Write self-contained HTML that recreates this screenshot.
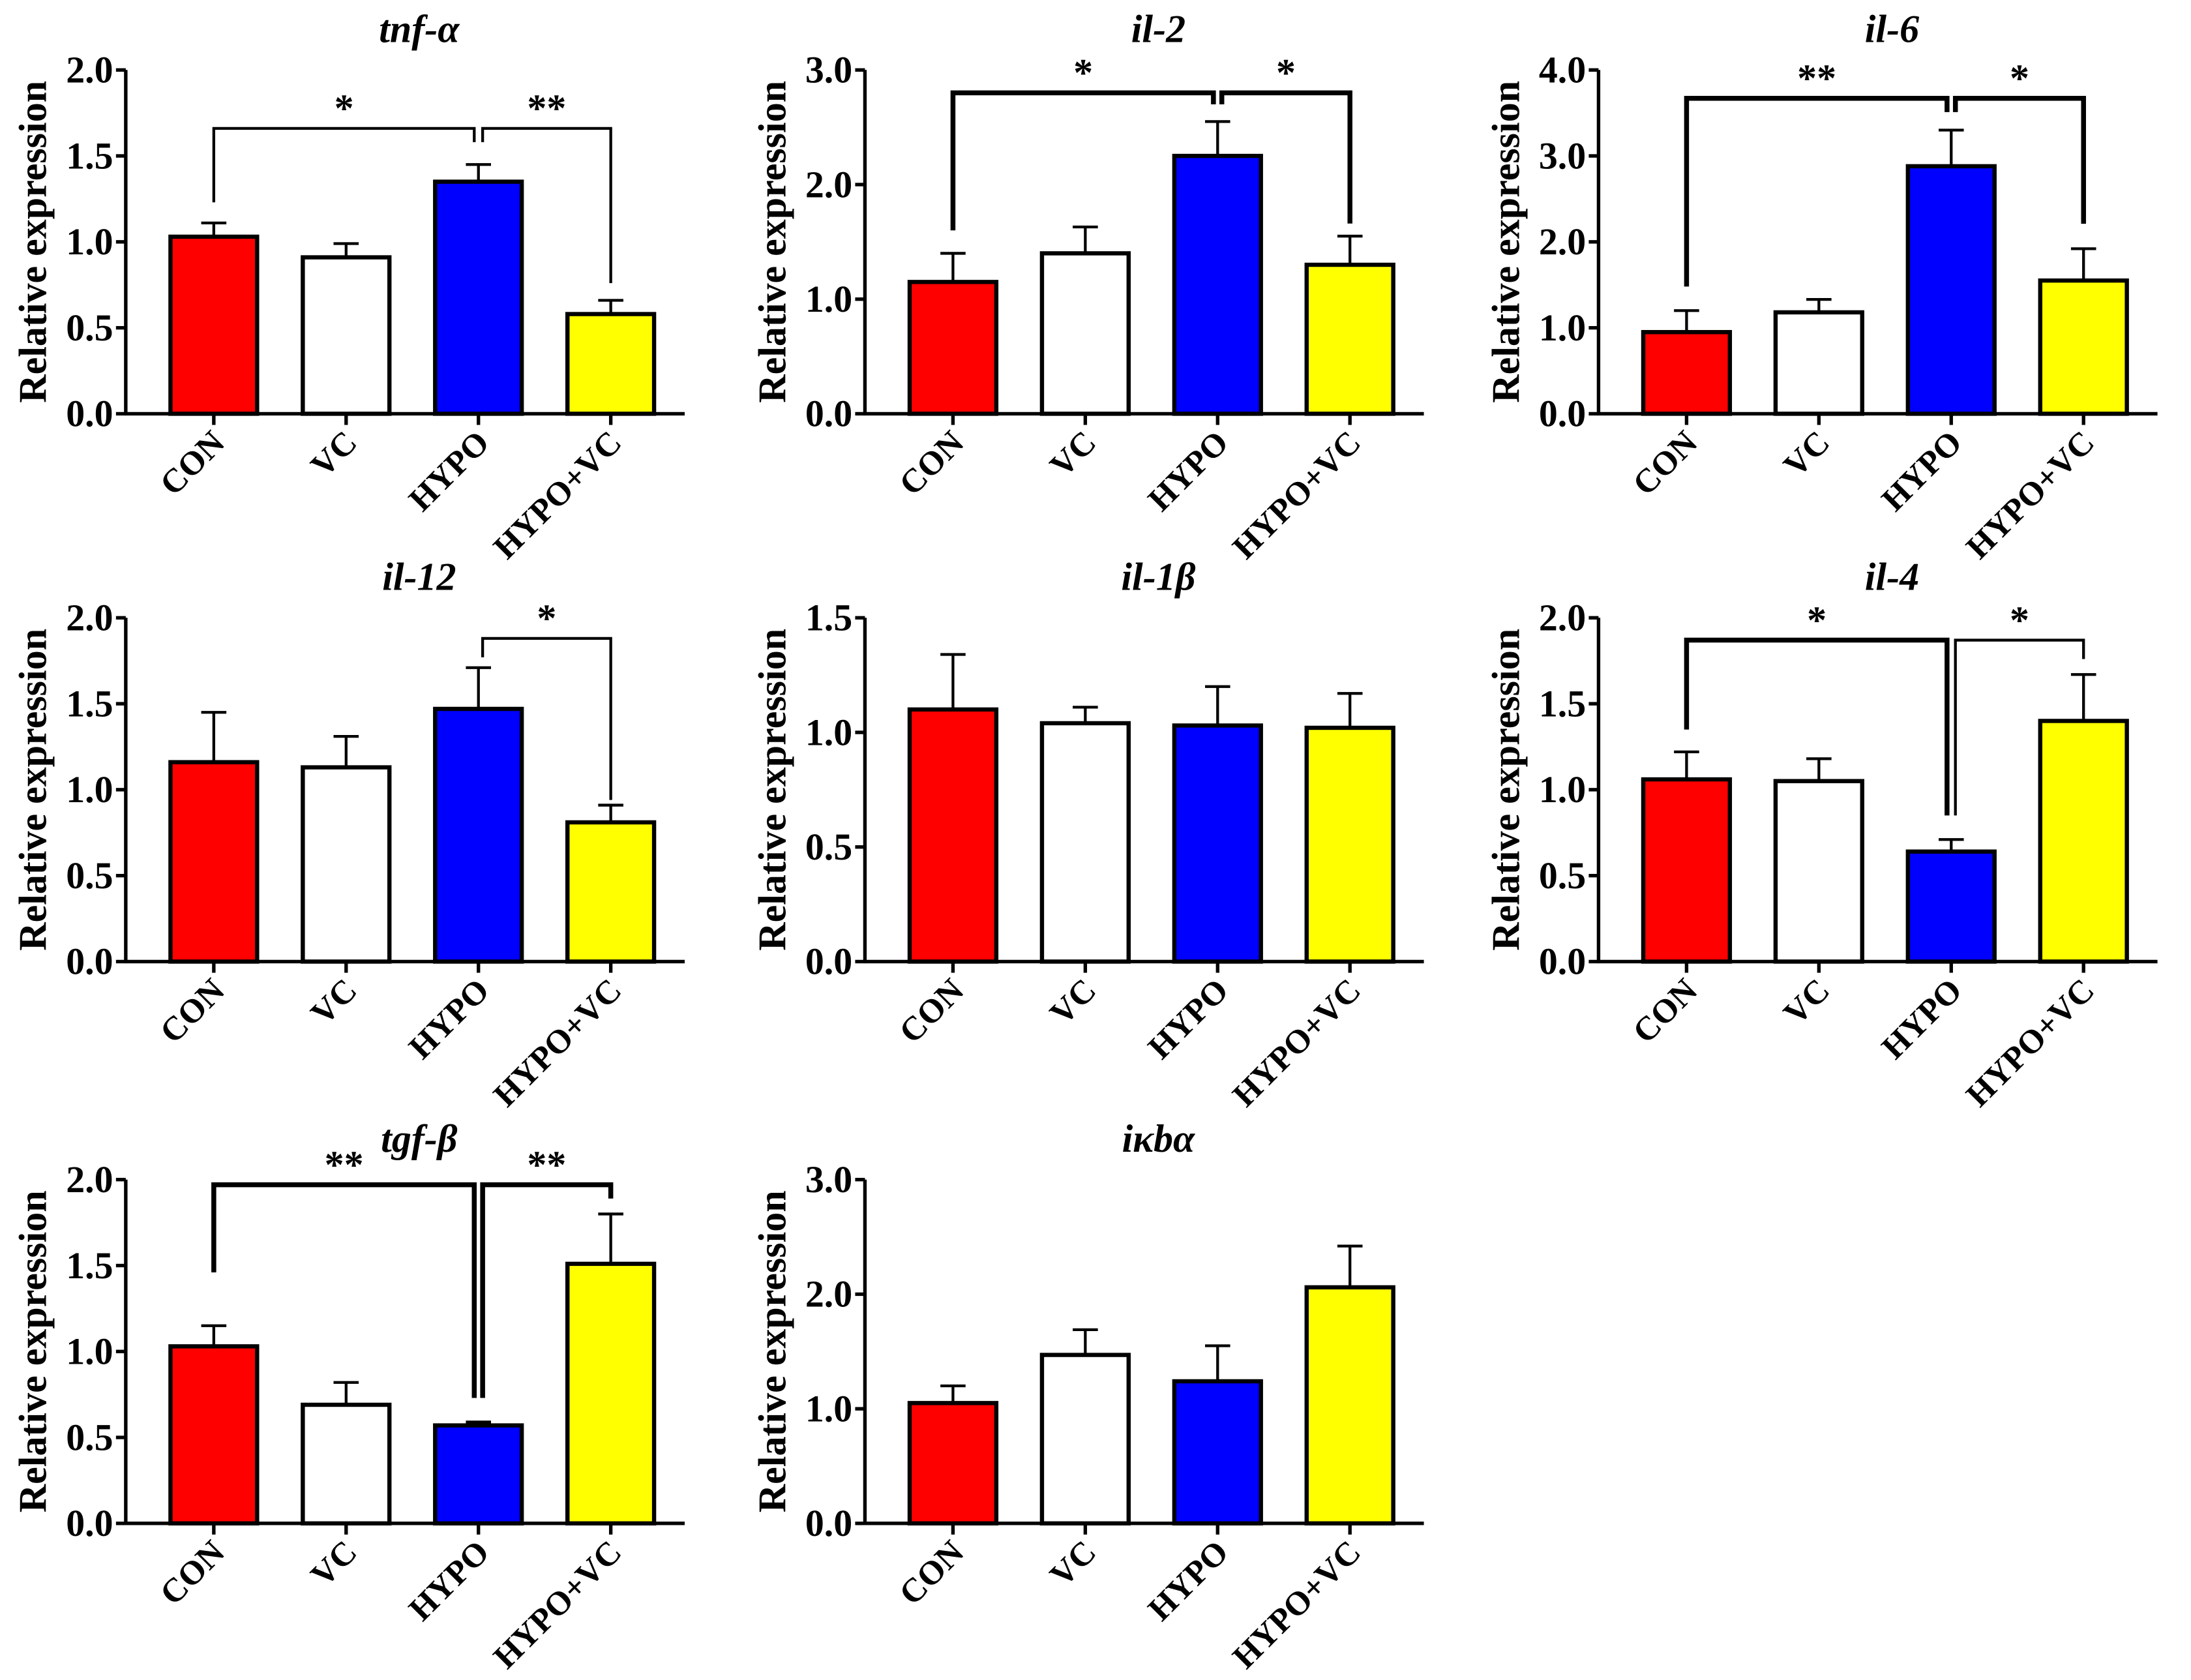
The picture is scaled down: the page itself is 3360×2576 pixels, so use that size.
<!DOCTYPE html>
<html><head><meta charset="utf-8"><style>
html,body{margin:0;padding:0;background:#fff;}
svg{display:block;}
text{font-family:"Liberation Serif",serif;font-weight:bold;fill:#000;}
</style></head><body>
<svg id="fig" width="3360" height="2576" viewBox="0 0 1568 1202" xmlns="http://www.w3.org/2000/svg"></svg>
<script>
const categories=["CON","VC","HYPO","HYPO+VC"];
const colors=["#ff0000","#ffffff","#0000ff","#ffff00"];
const titles=["tnf-α","il-2","il-6","il-12","il-1β","il-4","tgf-β","iκbα"];
const maxes=[2,3,4,2,1.5,2,2,3];
const tickSteps=[0.5,1,1,0.5,0.5,0.5,0.5,1];
const means=[[1.03,0.91,1.35,0.58],[1.15,1.40,2.25,1.30],[0.95,1.18,2.88,1.55],[1.16,1.13,1.47,0.81],[1.10,1.04,1.03,1.02],[1.06,1.05,0.64,1.40],[1.03,0.69,0.57,1.51],[1.05,1.47,1.24,2.06]];
const errs=[[0.08,0.08,0.10,0.08],[0.25,0.23,0.30,0.25],[0.25,0.15,0.42,0.37],[0.29,0.18,0.24,0.10],[0.24,0.07,0.17,0.15],[0.16,0.13,0.07,0.27],[0.12,0.13,0.02,0.29],[0.15,0.22,0.31,0.36]];
// brackets: [panel, from, to, top, leftLegEnd, rightLegEnd, label, thick]
const brackets=[[0,0,2,1.66,1.23,1.58,"*",0],[0,2,3,1.66,1.58,0.76,"**",0],
[1,0,2,2.80,1.60,2.70,"*",1],[1,2,3,2.80,2.70,1.66,"*",1],
[2,0,2,3.67,1.48,3.51,"**",1],[2,2,3,3.67,3.51,2.21,"*",1],
[3,2,3,1.88,1.77,0.94,"*",0],
[5,0,2,1.87,1.35,0.85,"*",1],[5,2,3,1.87,0.85,1.76,"*",0],
[6,0,2,1.97,1.46,0.73,"**",1],[6,2,3,1.97,0.73,1.89,"**",1]];
const axX=[90,619,1144], rowBot=[296,688,1090], H=246, AXW=400;
const svg=document.getElementById('fig');
const NS="http://www.w3.org/2000/svg";
function mk(tag,attrs,parent){const e=document.createElementNS(NS,tag);for(const k in attrs)e.setAttribute(k,attrs[k]);(parent||svg).appendChild(e);return e;}
titles.forEach((t,p)=>{
  const ox=axX[p%3], by=rowBot[Math.floor(p/3)];
  const g=mk('g',{});
  
  
  const y=v=>by-v/maxes[p]*H;
  const xc=i=>ox+63+i*94.7;
  const tt=mk('text',{x:ox+210,y:by-H-20,'text-anchor':'middle','font-size':28,'font-style':'italic'},g);
  tt.textContent=t;
  
  
  const yl=mk('text',{x:0,y:0,'text-anchor':'middle','font-size':28,transform:`translate(${ox-57},${by-H/2}) rotate(-90)`},g);
  yl.textContent="Relative expression";
  
  
  for(let v=0;v<=maxes[p]+1e-9;v+=tickSteps[p]){
    mk('line',{x1:ox-7,x2:ox,y1:y(v),y2:y(v),stroke:'#000','stroke-width':2.5},g);
    const tl=mk('text',{x:ox-9,y:y(v)+9,'text-anchor':'end','font-size':27},g);
    tl.textContent=v.toFixed(1);
    
    
  }
  means[p].forEach((m,i)=>{
    const c=xc(i), e=errs[p][i];
    mk('line',{x1:c,x2:c,y1:y(m),y2:y(m+e),stroke:'#000','stroke-width':2},g);
    mk('line',{x1:c-9,x2:c+9,y1:y(m+e),y2:y(m+e),stroke:'#000','stroke-width':2},g);
    const r=mk('rect',{x:c-31,y:y(m),width:62,height:by-y(m),fill:colors[i],stroke:'#000','stroke-width':3},g);
    
    
    mk('line',{x1:c,x2:c,y1:by,y2:by+8,stroke:'#000','stroke-width':2.5},g);
    const cl=mk('text',{x:0,y:0,'text-anchor':'end','font-size':24,transform:`translate(${c+9},${by+22}) rotate(-45)`},g);
    cl.textContent=categories[i];
    
    
  });
  mk('line',{x1:ox,x2:ox,y1:by-H,y2:by+1,stroke:'#000','stroke-width':2.5},g);
  mk('line',{x1:ox-1,x2:ox+AXW,y1:by,y2:by,stroke:'#000','stroke-width':2.5},g);
  brackets.filter(b=>b[0]===p).forEach(b=>{
    const x1=xc(b[1])+(b[1]===2?3:0), x2=xc(b[2])-(b[2]===2?3:0);
    const pl=mk('polyline',{points:`${x1},${y(b[4])} ${x1},${y(b[3])} ${x2},${y(b[3])} ${x2},${y(b[5])}`,fill:'none',stroke:'#000','stroke-width':b[7]?3.5:2},g);
    
    
    const st=mk('text',{x:(x1+x2)/2,y:y(b[3])-5,'text-anchor':'middle','font-size':28},g);
    st.textContent=b[6];
    
    
  });
});
</script>
</body></html>
